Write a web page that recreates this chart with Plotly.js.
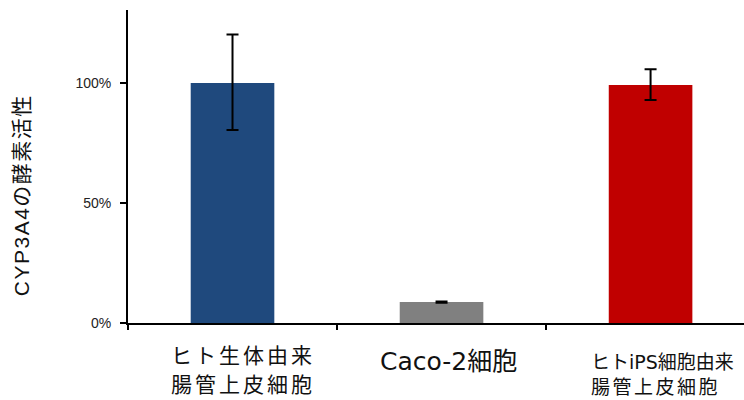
<!DOCTYPE html>
<html>
<head>
<meta charset="utf-8">
<script src="https://cdn.plot.ly/plotly-3.0.1.min.js"></script>
<style>html,body{margin:0;padding:0;background:#fff;}#chart{width:744px;height:400px;}</style>
</head>
<body>
<div id="chart"></div>
<script>
// ---- data ----
const categories = ['A', 'B', 'C'];
const labelLine1 = ['ヒト生体由来', 'Caco-2細胞', 'ヒトiPS細胞由来'];
const labelLine2 = ['腸管上皮細胞', '', '腸管上皮細胞'];
const activity = [100, 8.7, 99.2];
const errPlus = [20.2, 0.3, 6.5];
const errMinus = [19.6, 0.3, 6.3];
const barColors = ['#1F497D', '#808080', '#C00000'];
const yTickVals = [0, 50, 100];
const yTickText = ['0%', '50%', '100%'];
const yTitle = 'CYP3A4の酵素活性';

// ---- layout helpers (positions in px) ----
const labelCfg = [
  {anchor: 'left', xs: -64, y1: -33, y2: -62, size1: 21, size2: 21, ls1: 3, ls2: 3},
  {anchor: 'center', xs: 7, y1: -38, y2: 0, size1: 25, size2: 25, ls1: 0, ls2: 0},
  {anchor: 'left', xs: -62, y1: -39, y2: -64, size1: 19, size2: 19, ls1: 0, ls2: 2.5}
];
const font = '"DejaVu Sans", "Noto Sans CJK JP", sans-serif';
const annotations = [];
const spacing = [];
categories.forEach((c, i) => {
  const cfg = labelCfg[i];
  [[labelLine1[i], cfg.y1, cfg.size1, cfg.ls1], [labelLine2[i], cfg.y2, cfg.size2, cfg.ls2]].forEach(([t, ys, sz, ls]) => {
    if (!t) return;
    annotations.push({
      text: t, x: c, xref: 'x', y: 0, yref: 'paper',
      xanchor: cfg.anchor, align: cfg.anchor, yanchor: 'middle', xshift: cfg.xs, yshift: ys,
      showarrow: false, font: {family: font, size: sz, color: '#111'}
    });
    spacing.push(ls);
  });
});
annotations.push({
  text: yTitle, x: 0, xref: 'paper', y: 0.409, yref: 'paper',
  xanchor: 'center', yanchor: 'middle', xshift: -106, textangle: -90,
  showarrow: false, font: {family: '"Liberation Sans", Arial, "Noto Sans CJK JP", sans-serif', size: 21, color: '#111'}
});
spacing.push(1.5);

const trace = {
  type: 'bar', x: categories, y: activity, width: 0.4,
  marker: {color: barColors, line: {width: 0}},
  error_y: {type: 'data', symmetric: false, array: errPlus, arrayminus: errMinus,
            color: '#000', thickness: 2, width: 6},
  hoverinfo: 'none'
};

const layout = {
  width: 744, height: 400,
  margin: {l: 128, r: 0, t: 10, b: 77, pad: 0},
  paper_bgcolor: '#fff', plot_bgcolor: '#fff',
  showlegend: false,
  xaxis: {
    type: 'category', range: [-0.5, 2.447],
    showticklabels: false, ticks: 'outside', tickson: 'boundaries',
    ticklen: 5, tickwidth: 2, tickcolor: '#000',
    showline: true, linecolor: '#000', linewidth: 2,
    showgrid: false, zeroline: false, fixedrange: true
  },
  yaxis: {
    range: [0, 130.4], tickvals: yTickVals, ticktext: yTickText,
    ticks: 'outside', ticklen: 6, tickwidth: 2, tickcolor: '#000',
    ticklabelstandoff: 6,
    tickfont: {family: '"Liberation Sans", Arial, sans-serif', size: 14, color: '#222'},
    showline: true, linecolor: '#000', linewidth: 2,
    showgrid: false, zeroline: false, fixedrange: true
  },
  annotations: annotations
};

Plotly.newPlot('chart', [trace], layout, {staticPlot: true, displayModeBar: false}).then(gd => {
  gd.querySelectorAll('.annotation-text').forEach((el, i) => {
    if (spacing[i]) el.style.letterSpacing = spacing[i] + 'px';
  });
});
</script>
</body>
</html>
